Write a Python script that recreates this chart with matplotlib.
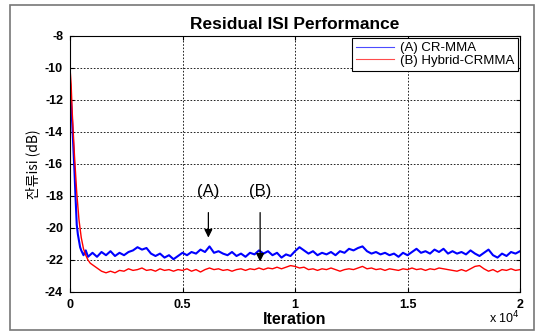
import numpy as np
import matplotlib
matplotlib.use("Agg")
import matplotlib.pyplot as plt
from matplotlib.patches import Rectangle

plt.rcParams['font.family'] = ['Liberation Sans', 'Noto Sans CJK KR', 'DejaVu Sans']
plt.rcParams['axes.unicode_minus'] = False

# (A) CR-MMA : start-up part, then steady state sampled every 200 iterations
blue_iter_early = [0, 50, 100, 150, 200, 250, 300, 350, 400, 450, 500, 600, 700, 800]
blue_early = [-11.0, -12.2, -13.5, -15.0, -16.5, -18.2, -19.8, -20.4, -20.8, -21.2,
              -21.4, -21.7, -21.4, -21.8]
blue_steady = [
    -21.55, -21.8, -21.5, -21.7, -21.45, -21.75, -21.55, -21.7, -21.5, -21.4,
    -21.2, -21.35, -21.25, -21.6, -21.75, -21.6, -21.85, -21.7, -21.95, -21.75,
    -21.55, -21.7, -21.5, -21.6, -21.35, -21.5, -21.15, -21.55, -21.45, -21.6,
    -21.7, -21.5, -21.75, -21.6, -21.8, -21.55, -21.65, -21.4, -21.6, -21.45,
    -21.7, -21.55, -21.85, -21.65, -21.75, -21.45, -21.2, -21.4, -21.6, -21.45,
    -21.7, -21.55, -21.65, -21.5, -21.7, -21.45, -21.55, -21.3, -21.4, -21.25,
    -21.15, -21.45, -21.6, -21.5, -21.65, -21.55, -21.7, -21.6, -21.8, -21.55,
    -21.7, -21.5, -21.3, -21.55, -21.45, -21.6, -21.35, -21.5, -21.3, -21.6,
    -21.45, -21.6, -21.5, -21.65, -21.4, -21.6, -21.75, -21.55, -21.35, -21.7,
    -21.85, -21.6, -21.75, -21.5, -21.6, -21.45,
]

# (B) Hybrid-CRMMA
red_iter_early = [0, 50, 100, 200, 300, 400, 500, 600, 700, 800, 900, 1000, 1200, 1400, 1600]
red_early = [-10.0, -11.0, -12.8, -15.5, -17.8, -19.5, -20.6, -21.3, -21.7, -22.0,
             -22.2, -22.3, -22.5, -22.7, -22.8]
red_steady = [
    -22.7, -22.8, -22.65, -22.7, -22.55, -22.65, -22.6, -22.5, -22.65, -22.6,
    -22.7, -22.55, -22.65, -22.6, -22.7, -22.6, -22.65, -22.55, -22.7, -22.6,
    -22.75, -22.6, -22.5, -22.6, -22.55, -22.65, -22.6, -22.7, -22.6, -22.55,
    -22.65, -22.55, -22.6, -22.5, -22.6, -22.5, -22.55, -22.45, -22.55, -22.45,
    -22.35, -22.4, -22.5, -22.45, -22.6, -22.55, -22.65, -22.55, -22.6, -22.5,
    -22.6, -22.7, -22.6, -22.55, -22.6, -22.5, -22.4, -22.55, -22.5, -22.6,
    -22.55, -22.65, -22.55, -22.6, -22.65, -22.55, -22.6, -22.5, -22.6, -22.55,
    -22.65, -22.55, -22.6, -22.5, -22.55, -22.6, -22.65, -22.7, -22.6, -22.7,
    -22.55, -22.4, -22.35, -22.55, -22.7, -22.6, -22.75, -22.6, -22.65, -22.55,
    -22.65, -22.6,
]

x_ticks = [0, 5000, 10000, 15000, 20000]
x_tick_labels = ['0', '0.5', '1', '1.5', '2']
y_ticks = [-24, -22, -20, -18, -16, -14, -12, -10, -8]

blue_x = blue_iter_early + [1000 + 200 * i for i in range(len(blue_steady))]
blue_y = blue_early + blue_steady
red_x = red_iter_early + [1800 + 200 * i for i in range(len(red_steady))]
red_y = red_early + red_steady

fig = plt.figure(figsize=(5.36, 3.32), dpi=100)
fig.patches.append(Rectangle((10 / 536, 2 / 332), 524 / 536, 325 / 332,
                             transform=fig.transFigure, fill=False,
                             edgecolor='#777777', linewidth=1.2))
ax = fig.add_axes([70 / 536, 1 - 292 / 332, 450 / 536, 256 / 332])

ax.plot(blue_x, blue_y, color='#0000ff', lw=1.5, label='(A) CR-MMA')
ax.plot(red_x, red_y, color='#ff0000', lw=1.0, label='(B) Hybrid-CRMMA')

ax.set_xlim(0, 20000)
ax.set_ylim(-24, -8)
ax.set_xticks(x_ticks)
ax.set_xticklabels(x_tick_labels)
ax.set_yticks(y_ticks)
ax.tick_params(direction='in', top=True, right=True, length=3, labelsize=9, pad=5)
for lab in ax.get_xticklabels() + ax.get_yticklabels():
    lab.set_fontweight('bold')
ax.grid(True, color='black', linestyle=(0, (2, 2)), linewidth=0.6)
for s in ax.spines.values():
    s.set_linewidth(0.8)

ax.set_title('Residual ISI Performance', fontsize=12.5, fontweight='bold', pad=5)
ax.set_xlabel('Iteration', fontsize=11.5, fontweight='bold', labelpad=1)
ax.set_ylabel('잔류isi (dB)', fontsize=10, labelpad=3,
              family=['Noto Sans CJK KR', 'DejaVu Sans'])
ax.text(1.0, -0.1, r'x 10$^4$', transform=ax.transAxes, ha='right', va='center', fontsize=9)

leg = ax.legend(loc='upper right', fontsize=9.5, fancybox=False, framealpha=1,
                edgecolor='black', handlelength=2.9, borderaxespad=0.15,
                borderpad=0.3, labelspacing=0.05, handletextpad=0.4)
leg.get_frame().set_linewidth(0.8)
for line in leg.get_lines():
    line.set_linewidth(0.8)
    line.set_alpha(0.7)

ax.annotate('(A)', xy=(6150, -20.6), xytext=(6150, -17.7), ha='center', va='center',
            fontsize=12, arrowprops=dict(arrowstyle='-|>', color='black', lw=0.9,
                                         shrinkA=8, shrinkB=0, mutation_scale=12))
ax.annotate('(B)', xy=(8450, -22.1), xytext=(8450, -17.7), ha='center', va='center',
            fontsize=12, arrowprops=dict(arrowstyle='-|>', color='black', lw=0.9,
                                         shrinkA=8, shrinkB=0, mutation_scale=12))

fig.savefig('out.png', dpi=100)
